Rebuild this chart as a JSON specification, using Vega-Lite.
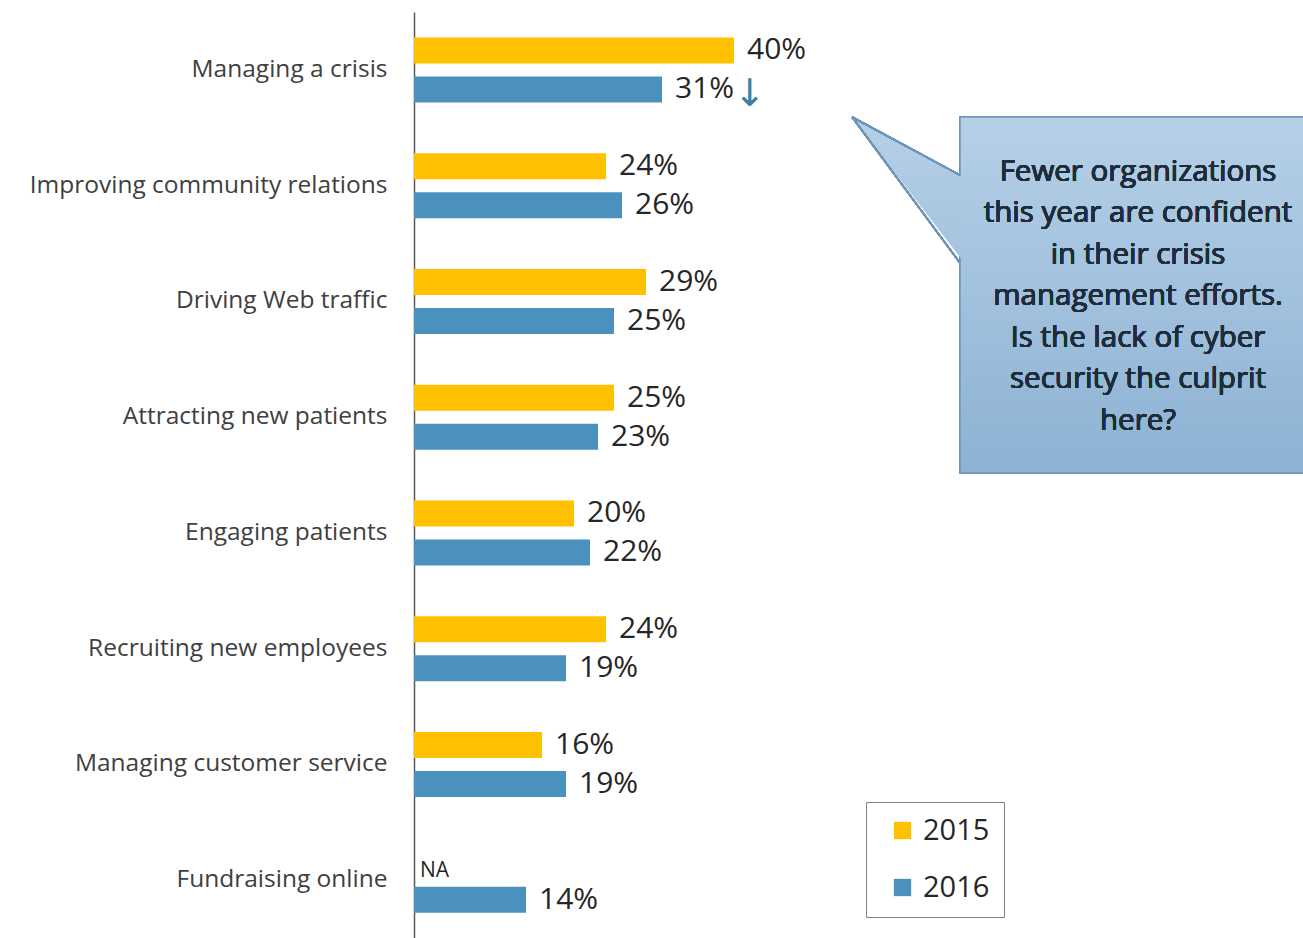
{
  "$schema": "https://vega.github.io/schema/vega-lite/v6.json",
  "autosize": {"type": "none"},
  "padding": {"left": 414, "top": 12, "right": 0, "bottom": 0},
  "width": 889,
  "height": 926,
  "background": "white",
  "config": {"view": {"stroke": null}, "font": "Open Sans"},
  "data": {
    "values": [
      {"category": "Managing a crisis", "year": "2015", "value": 40, "label": "40%"},
      {"category": "Managing a crisis", "year": "2016", "value": 31, "label": "31%"},
      {"category": "Improving community relations", "year": "2015", "value": 24, "label": "24%"},
      {"category": "Improving community relations", "year": "2016", "value": 26, "label": "26%"},
      {"category": "Driving Web traffic", "year": "2015", "value": 29, "label": "29%"},
      {"category": "Driving Web traffic", "year": "2016", "value": 25, "label": "25%"},
      {"category": "Attracting new patients", "year": "2015", "value": 25, "label": "25%"},
      {"category": "Attracting new patients", "year": "2016", "value": 23, "label": "23%"},
      {"category": "Engaging patients", "year": "2015", "value": 20, "label": "20%"},
      {"category": "Engaging patients", "year": "2016", "value": 22, "label": "22%"},
      {"category": "Recruiting new employees", "year": "2015", "value": 24, "label": "24%"},
      {"category": "Recruiting new employees", "year": "2016", "value": 19, "label": "19%"},
      {"category": "Managing customer service", "year": "2015", "value": 16, "label": "16%"},
      {"category": "Managing customer service", "year": "2016", "value": 19, "label": "19%"},
      {"category": "Fundraising online", "year": "2015", "value": null, "label": "NA"},
      {"category": "Fundraising online", "year": "2016", "value": 14, "label": "14%"}
    ]
  },
  "layer": [
    {
      "layer": [
        {
          "mark": {"type": "rect", "fill": {"gradient": "linear", "x1": 0, "y1": 0, "x2": 0, "y2": 1, "stops": [{"offset": 0, "color": "#b6d0e7"}, {"offset": 1, "color": "#8db2d4"}]}, "stroke": "#6e96bb", "strokeWidth": 1.5},
          "encoding": {
            "x": {"datum": 68.25, "type": "quantitative"},
            "x2": {"datum": 116},
            "y": {"datum": 0.907, "type": "quantitative", "scale": {"domain": [0, 8], "reverse": true, "nice": false, "zero": false}, "axis": null},
            "y2": {"datum": 3.983}
          }
        },
        {
          "data": {"values": [{"px": 54.75, "top": 0.907, "bot": 0.907}, {"px": 68.6, "top": 1.43, "bot": 2.15}]},
          "mark": {"type": "area", "orient": "vertical", "fill": {"gradient": "linear", "x1": 0, "y1": 0, "x2": 0, "y2": 1, "stops": [{"offset": 0, "color": "#b6d0e7"}, {"offset": 1, "color": "#a5c3de"}]}, "strokeWidth": 0},
          "encoding": {
            "x": {"field": "px", "type": "quantitative"},
            "y": {"field": "top", "type": "quantitative"},
            "y2": {"field": "bot"}
          }
        },
        {
          "mark": {"type": "rule", "stroke": "#6e96bb", "strokeWidth": 1.5},
          "encoding": {
            "x": {"datum": 54.75, "type": "quantitative"},
            "x2": {"datum": 68.25},
            "y": {"datum": 0.907, "type": "quantitative"},
            "y2": {"datum": 1.41}
          }
        },
        {
          "mark": {"type": "rule", "stroke": "#6e96bb", "strokeWidth": 1.5},
          "encoding": {
            "x": {"datum": 54.75, "type": "quantitative"},
            "x2": {"datum": 68.25},
            "y": {"datum": 0.907, "type": "quantitative"},
            "y2": {"datum": 2.168}
          }
        },
        {
          "mark": {"type": "text", "text": ["Fewer organizations", "this year are confident", "in their crisis", "management efforts.", "Is the lack of cyber", "security the culprit", "here?"], "fontSize": 29.5, "lineHeight": 41.5, "align": "center", "baseline": "middle", "color": "#1f2d3a", "font": "Open Sans"},
          "encoding": {
            "x": {"datum": 90.5, "type": "quantitative"},
            "y": {"datum": 1.382, "type": "quantitative"}
          }
        }
      ]
    },
    {
      "layer": [
        {
          "transform": [{"filter": "datum.year == '2015'"}],
          "mark": {"type": "bar", "height": 26, "yOffset": -19.5},
          "encoding": {
            "y": {
              "field": "category", "type": "nominal", "sort": null,
              "scale": {"paddingInner": 0, "paddingOuter": 0},
              "axis": {"orient": "left", "title": null, "ticks": false, "labelFontSize": 24.5, "labelColor": "#404040", "labelPadding": 27, "domainColor": "#595959", "domainWidth": 1.5, "labelFont": "Open Sans", "labelLimit": 420}
            },
            "x": {"field": "value", "type": "quantitative", "scale": {"domain": [0, 111.125], "nice": false}, "axis": null},
            "color": {
              "field": "year", "type": "nominal",
              "scale": {"domain": ["2015", "2016"], "range": ["#FFC000", "#4A91BE"]},
              "legend": {"title": null, "orient": "none", "legendX": 452, "legendY": 790, "symbolType": "square", "symbolSize": 300, "labelFontSize": 29, "labelColor": "#262626", "labelFont": "Open Sans", "strokeColor": "#808080", "padding": 14, "symbolOffset": 8, "labelOffset": 6, "rowPadding": 27, "symbolStrokeWidth": 0}
            }
          }
        },
        {
          "transform": [{"filter": "datum.year == '2016'"}],
          "mark": {"type": "bar", "height": 26, "yOffset": 19.5},
          "encoding": {
            "y": {"field": "category", "type": "nominal", "sort": null},
            "x": {"field": "value", "type": "quantitative"},
            "color": {"field": "year", "type": "nominal"}
          }
        },
        {
          "transform": [{"filter": "datum.year == '2015' && datum.value != null"}],
          "mark": {"type": "text", "align": "left", "baseline": "middle", "dx": 13, "dy": -19.5, "fontSize": 30, "color": "#262626", "font": "Open Sans"},
          "encoding": {
            "y": {"field": "category", "type": "nominal", "sort": null},
            "x": {"field": "value", "type": "quantitative"},
            "text": {"field": "label"}
          }
        },
        {
          "transform": [{"filter": "datum.year == '2016' && datum.value != null"}],
          "mark": {"type": "text", "align": "left", "baseline": "middle", "dx": 13, "dy": 19.5, "fontSize": 30, "color": "#262626", "font": "Open Sans"},
          "encoding": {
            "y": {"field": "category", "type": "nominal", "sort": null},
            "x": {"field": "value", "type": "quantitative"},
            "text": {"field": "label"}
          }
        },
        {
          "transform": [{"filter": "datum.value == null"}],
          "mark": {"type": "text", "align": "left", "baseline": "middle", "dx": 6, "dy": -9, "fontSize": 21, "color": "#262626", "font": "Open Sans"},
          "encoding": {
            "y": {"field": "category", "type": "nominal", "sort": null},
            "x": {"datum": 0, "type": "quantitative"},
            "text": {"field": "label"}
          }
        },
        {
          "transform": [{"filter": "datum.category == 'Managing a crisis' && datum.year == '2016'"}],
          "mark": {"type": "text", "text": "↓", "align": "center", "baseline": "middle", "dy": 25, "fontSize": 38, "color": "#3f7fa3", "font": "DejaVu Sans"},
          "encoding": {
            "y": {"field": "category", "type": "nominal", "sort": null},
            "x": {"datum": 42, "type": "quantitative"}
          }
        }
      ]
    }
  ],
  "resolve": {"scale": {"y": "independent"}, "axis": {"y": "independent"}}
}
